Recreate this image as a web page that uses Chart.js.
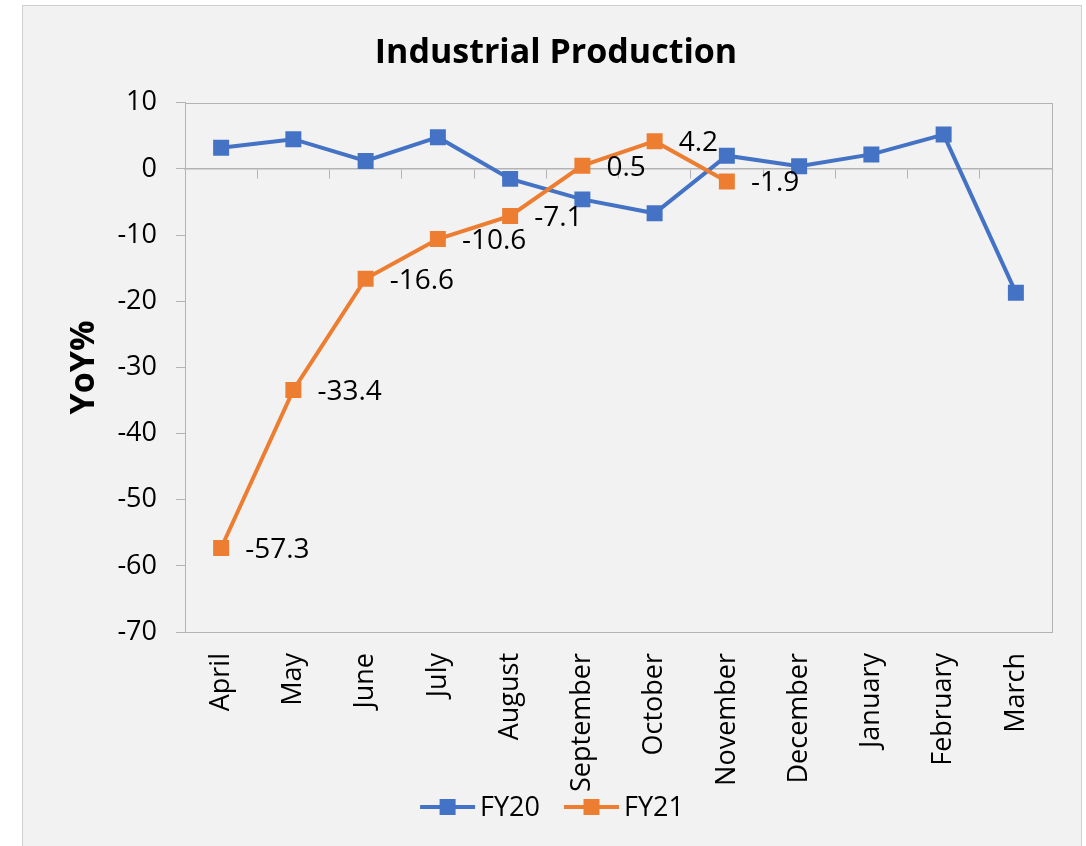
<!DOCTYPE html>
<html>
<head>
<meta charset="utf-8">
<title>Industrial Production</title>
<script src="https://cdn.jsdelivr.net/npm/chart.js@4.4.1/dist/chart.umd.min.js"></script>
<style>
  html, body { margin: 0; padding: 0; background: #fff; overflow: hidden; }
  #box {
    position: absolute; left: 22px; top: 5px;
    width: 1058px; height: 860px;
    background: #f2f2f2; border: 1px solid #d0d0d0;
  }
  #box canvas { display: block; }
</style>
</head>
<body>
<div id="box"><canvas id="grafica" width="1058" height="840"></canvas></div>
<script>
const meses = ['April', 'May', 'June', 'July', 'August', 'September', 'October',
  'November', 'December', 'January', 'February', 'March'];
const fy20 = [3.2, 4.5, 1.2, 4.8, -1.5, -4.6, -6.7, 2.0, 0.4, 2.2, 5.2, -18.7];
const fy21 = [-57.3, -33.4, -16.6, -10.6, -7.1, 0.5, 4.2, -1.9, null, null, null, null];
const yMin = -70;
const yMax = 10;
const yStep = 10;

const AZUL = '#4472C4';
const NARANJA = '#ED7D31';
const GRIS = '#b3b3b3';
const FUENTE = "'Open Sans', sans-serif";

Chart.defaults.font.family = FUENTE;
Chart.defaults.color = '#000';

// Marco del área de trazado (arriba, derecha, abajo)
const marco = {
  id: 'marco',
  beforeDatasetsDraw(chart) {
    const { ctx, chartArea: a } = chart;
    ctx.save();
    ctx.strokeStyle = GRIS;
    ctx.lineWidth = 1;
    ctx.strokeRect(Math.round(a.left) + 0.5, Math.round(a.top) + 0.5,
      Math.round(a.right - a.left), Math.round(a.bottom - a.top));
    ctx.restore();
  }
};

// Etiquetas de valor a la derecha de los puntos de FY21
const etiquetas = {
  id: 'etiquetas',
  afterDatasetsDraw(chart) {
    const { ctx } = chart;
    const meta = chart.getDatasetMeta(1);
    ctx.save();
    ctx.font = '28px ' + FUENTE;
    ctx.fillStyle = '#000';
    ctx.textAlign = 'left';
    ctx.textBaseline = 'middle';
    meta.data.forEach((p, i) => {
      const v = fy21[i];
      if (v === null) return;
      ctx.fillText(v.toFixed(1), p.x + 24, p.y + 2);
    });
    ctx.restore();
  }
};

// Leyenda abajo: línea con cuadrado + nombre de la serie
const leyenda = {
  id: 'leyenda',
  afterDraw(chart) {
    const { ctx } = chart;
    const ds = chart.data.datasets;
    const linea = 55, hueco = 5, sep = 24, y = 801;
    ctx.save();
    ctx.font = '27px ' + FUENTE;
    const anchos = ds.map(d => linea + hueco + ctx.measureText(d.label).width);
    const total = anchos.reduce((a, b) => a + b, 0) + sep * (ds.length - 1);
    let x = chart.width / 2 - total / 2;
    ds.forEach((d, i) => {
      ctx.strokeStyle = d.borderColor;
      ctx.lineWidth = 4;
      ctx.beginPath(); ctx.moveTo(x, y); ctx.lineTo(x + linea, y); ctx.stroke();
      ctx.fillStyle = d.borderColor;
      ctx.fillRect(x + linea / 2 - 8, y - 8, 16, 16);
      ctx.fillStyle = '#000';
      ctx.textAlign = 'left';
      ctx.textBaseline = 'middle';
      ctx.fillText(d.label, x + linea + hueco, y + 1);
      x += anchos[i] + sep;
    });
    ctx.restore();
  }
};

new Chart(document.getElementById('grafica').getContext('2d'), {
  type: 'line',
  data: {
    labels: meses,
    datasets: [{
      label: 'FY20',
      data: fy20,
      borderColor: AZUL,
      backgroundColor: AZUL,
      borderWidth: 4,
      pointStyle: 'rect',
      pointRadius: 11.3,
      pointBorderWidth: 0,
      order: 1
    }, {
      label: 'FY21',
      data: fy21,
      borderColor: NARANJA,
      backgroundColor: NARANJA,
      borderWidth: 4,
      pointStyle: 'rect',
      pointRadius: 11.3,
      pointBorderWidth: 0,
      order: 0
    }]
  },
  options: {
    responsive: false,
    animation: false,
    layout: { padding: { top: 10, left: 37, right: 29, bottom: 0 } },
    plugins: {
      tooltip: { enabled: false },
      legend: { display: false },
      title: {
        display: true,
        text: 'Industrial Production',
        font: { size: 34, weight: 'bold' },
        color: '#000',
        padding: { top: 17, bottom: 29 }
      }
    },
    scales: {
      x: {
        type: 'category',
        position: 'bottom',
        offset: true,
        grid: { display: false, drawTicks: false },
        border: { display: false },
        ticks: { minRotation: 90, maxRotation: 90, padding: 21, font: { size: 27 }, color: '#000' },
        afterFit: s => { s.height = 214; }
      },
      x0: {
        type: 'category',
        labels: meses,
        position: { y: 0 },
        offset: true,
        grid: { offset: true, drawOnChartArea: false, tickLength: 9, color: GRIS },
        border: { display: true, color: GRIS, width: 1.5 },
        ticks: { display: false }
      },
      y: {
        min: yMin,
        max: yMax,
        ticks: { stepSize: yStep, padding: 19, font: { size: 27 }, color: '#000' },
        grid: { drawOnChartArea: false, tickLength: 9, color: GRIS },
        border: { display: true, color: GRIS },
        title: {
          display: true,
          text: 'YoY%',
          font: { size: 34, weight: 'bold' },
          color: '#000',
          padding: { top: 4, bottom: 4 }
        },
        afterFit: s => { s.width = 125; }
      }
    }
  },
  plugins: [marco, etiquetas, leyenda]
});
</script>
</body>
</html>
